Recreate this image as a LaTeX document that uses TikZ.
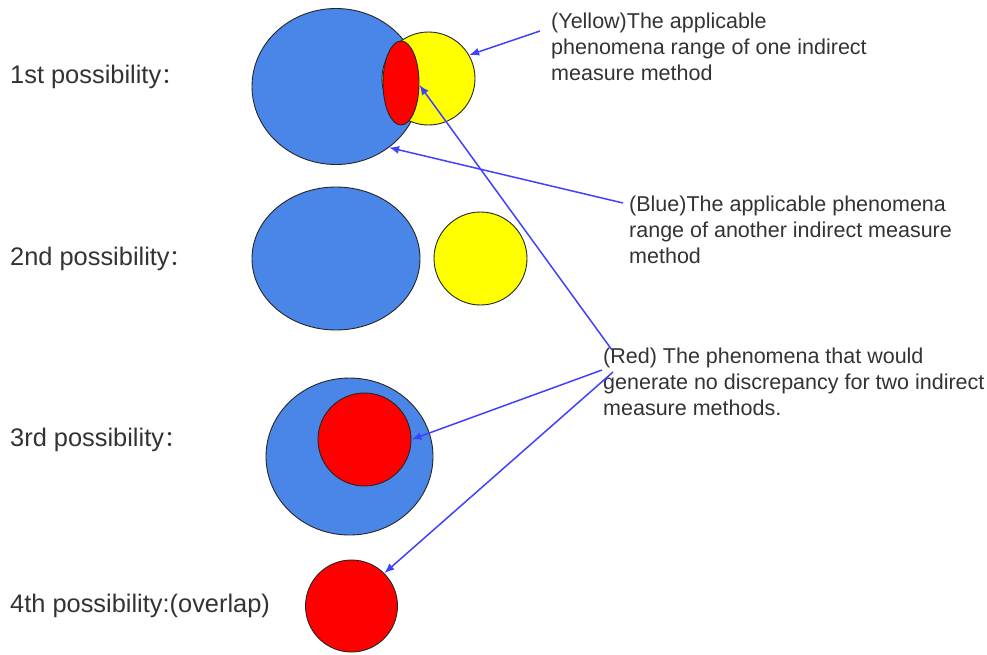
\documentclass[tikz,border=0pt]{standalone}
\usepackage{fontspec}
\setmainfont{Liberation Sans}
\newfontfamily\cjk{Noto Sans CJK SC}
\usetikzlibrary{shapes.geometric,arrows.meta}
\definecolor{gblue}{HTML}{4A86E8}
\definecolor{gyellow}{HTML}{FFFF00}
\definecolor{gred}{HTML}{FF0000}
\definecolor{arr}{HTML}{4040FF}
\begin{document}
\begin{tikzpicture}[x=1pt,y=-1pt,
  blob/.style={ellipse,draw=black!85,line width=0.9pt,inner sep=0pt},
  lab/.style={inner sep=0pt,anchor=base west,font=\fontsize{25.4}{30}\selectfont,text=black!80},
  note/.style={inner sep=0pt,anchor=north west,align=left,font=\fontsize{21.5}{26}\selectfont,text=black!80},
  ptr/.style={draw=arr,line width=1.5pt,-{Latex[length=10pt,width=8pt]}}]
\useasboundingbox (0,0) rectangle (987,654);
% 1st
\node[blob,fill=gblue,minimum width=168pt,minimum height=156pt] (b1) at (336,86.5) {};
\node[blob,fill=gyellow,minimum width=93pt,minimum height=93pt] (y1) at (428.5,78.5) {};
\node[blob,fill=gred,minimum width=36pt,minimum height=84pt] (r1) at (401,83) {};
% 2nd
\node[blob,fill=gblue,minimum width=168pt,minimum height=143pt] (b2) at (336,258.5) {};
\node[blob,fill=gyellow,minimum width=93pt,minimum height=93pt] (y2) at (480.5,258.5) {};
% 3rd
\node[blob,fill=gblue,minimum width=167pt,minimum height=157pt] (b3) at (349.5,456.5) {};
\node[blob,fill=gred,minimum width=93pt,minimum height=93pt] (r3) at (364.5,439.5) {};
% 4th
\node[blob,fill=gred,minimum width=92pt,minimum height=92pt] (r4) at (351.5,606) {};
% labels
\node[lab] (l1) at (10,83) {1st possibility{\cjk\fontsize{22}{26}\selectfont ：}};
\node[lab] (l2) at (10,265) {2nd possibility{\cjk\fontsize{22}{26}\selectfont ：}};
\node[lab] (l3) at (10,446) {3rd possibility{\cjk\fontsize{22}{26}\selectfont ：}};
\node[lab] (l4) at (10,612) {4th possibility:(overlap)};
% notes
\node[note] (ny) at (551,13) {(Yellow)The applicable\\phenomena range of one indirect\\measure method};
\node[note] (nb) at (629,196) {(Blue)The applicable phenomena\\range of another indirect measure\\method};
\node[note] (nr) at (603,348) {(Red) The phenomena that would\\generate no discrepancy for two indirect\\measure methods.};
% arrow starts
\coordinate (s1) at (540,31);
\coordinate (s2) at (623,203);
\coordinate (s3) at (612,350);
\coordinate (s4) at (602,370);
\coordinate (s5) at (613,372);
\draw[ptr] (s1) -- (y1.30);
\draw[ptr] (s2) -- (b1.-49);
\draw[ptr] (s3) -- (r1.-6);
\draw[ptr] (s4) -- (r3.0);
\draw[ptr] (s5) -- (r4.45);
\end{tikzpicture}
\end{document}
